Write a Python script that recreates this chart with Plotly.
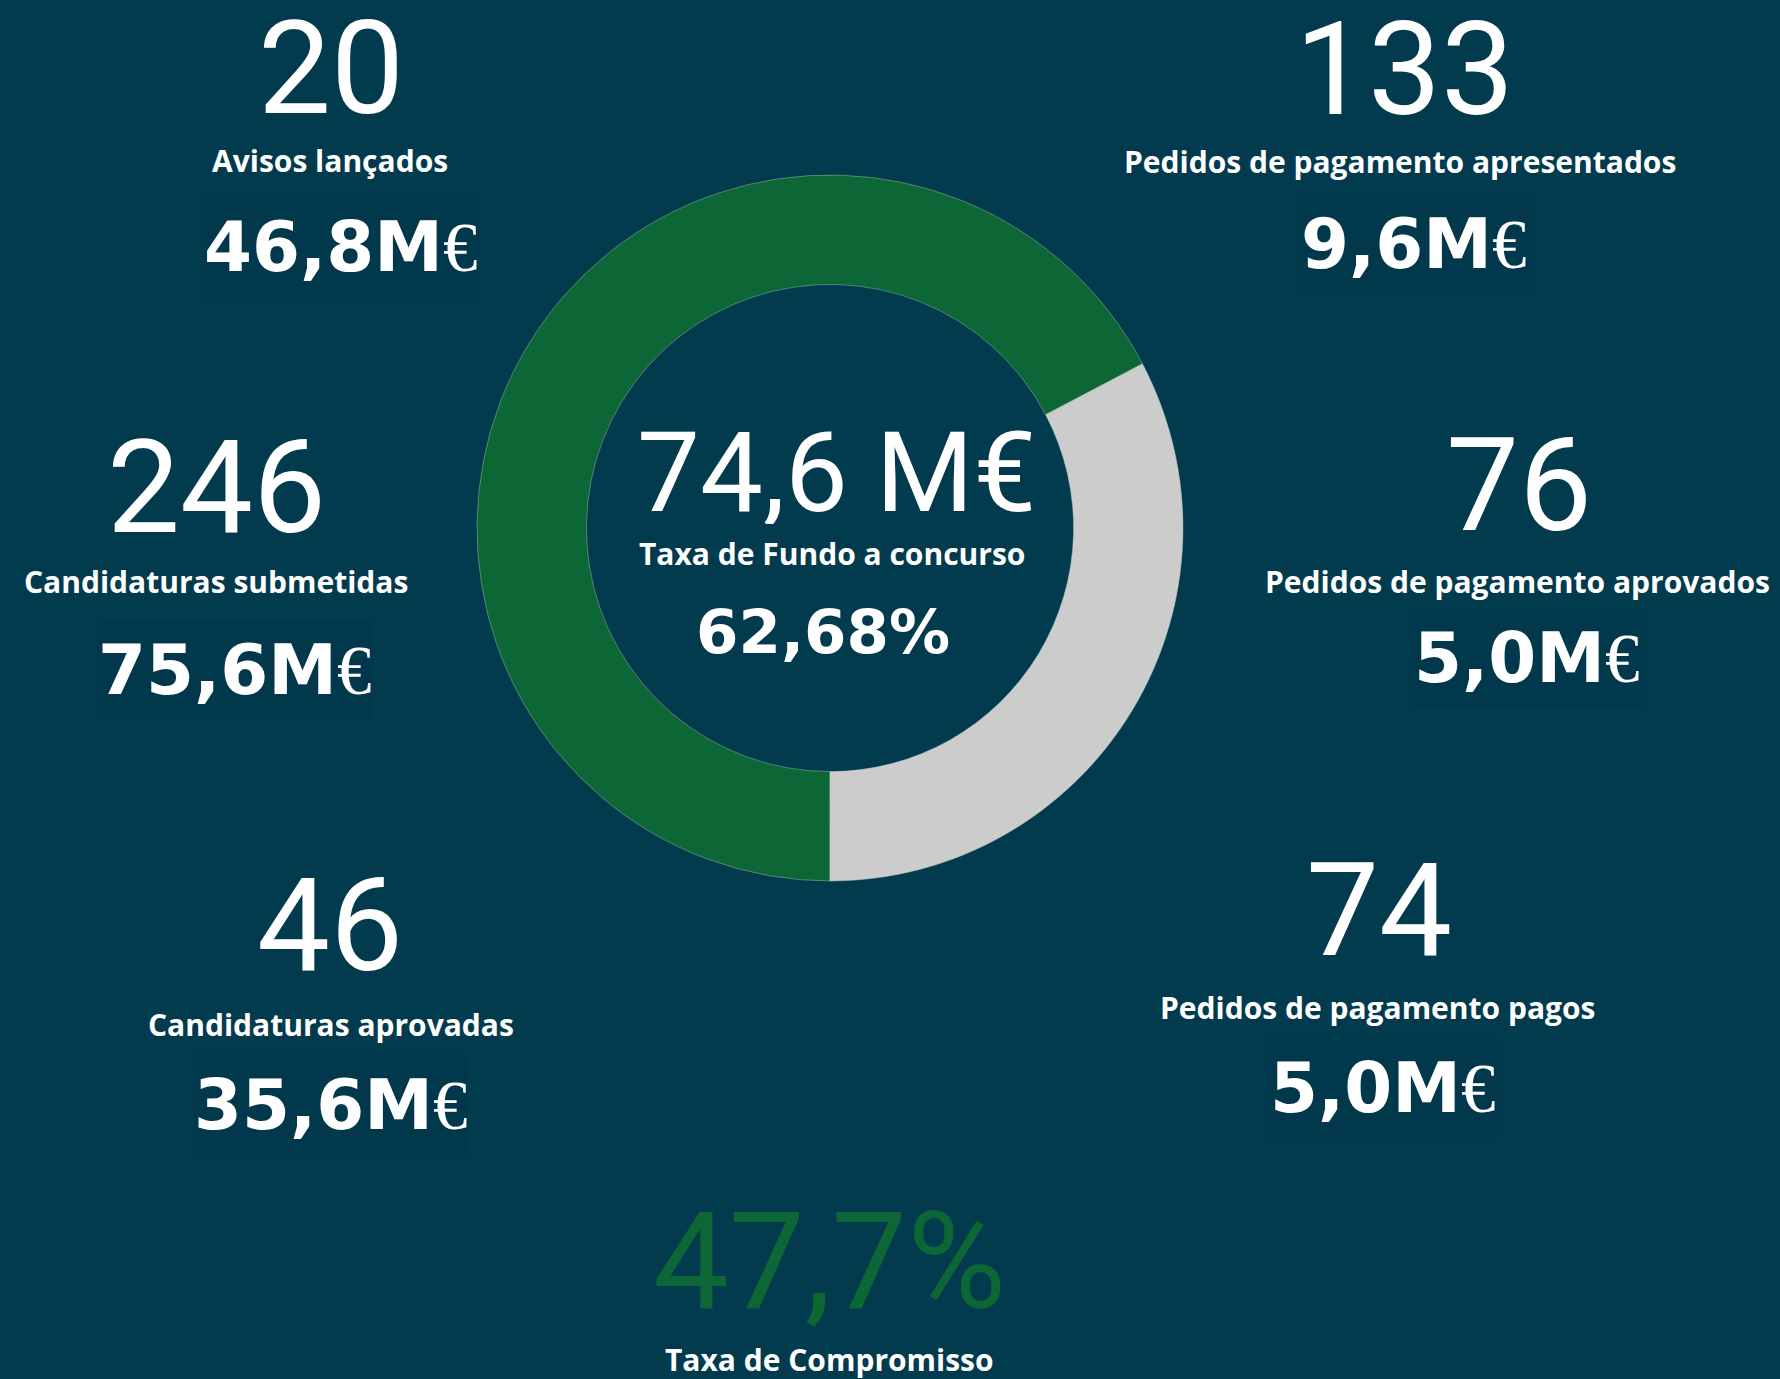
import plotly.graph_objects as go

W, H = 1780, 1379
BG = "#023A4E"
GREEN = "#0C6636"
GREY = "#CCCCCC"

# ---- data ----
kpi_counts = ["20", "133", "246", "76", "46", "74"]
kpi_labels = ["Avisos lançados", "Pedidos de pagamento apresentados", "Candidaturas submetidas",
              "Pedidos de pagamento aprovados", "Candidaturas aprovadas", "Pedidos de pagamento pagos"]
kpi_amounts = ["46,8", "9,6", "75,6", "5,0", "35,6", "5,0"]

donut_labels = ["Fundo a concurso", "Restante"]
donut_values = [67.3, 32.7]

centre_value = "74,6 M€"
centre_label = "Taxa de Fundo a concurso"
centre_rate = "62,68%"
commit_rate = "47,7%"
commit_label = "Taxa de Compromisso"

# ---- layout positions (pixels) ----
count_pos = [(331, 68), (1404, 69), (216, 487), (1519, 485), (330, 925), (1379, 910)]
label_pos = [(330, 160), (1400, 162), (216, 581), (1517, 581), (331, 1024), (1377, 1007)]
amount_pos = [(340, 247), (1413, 244), (234, 670), (1526, 658), (330, 1105), (1382, 1088)]
amount_box_w = [278, 232, 275, 232, 275, 232]

def px(x, y):
    return x / W, 1 - y / H

fig = go.Figure()
cx, cy, r = 830, 528, 353
x0, y0 = px(cx - r, cy + r)
x1, y1 = px(cx + r, cy - r)
fig.add_trace(go.Pie(
    labels=donut_labels, values=donut_values, hole=0.69, sort=False,
    direction="clockwise", rotation=180,
    marker=dict(colors=[GREEN, GREY], line=dict(color="rgba(170,200,180,0.45)", width=1)),
    textinfo="none", hoverinfo="label+percent", showlegend=False,
    domain=dict(x=[x0, x1], y=[y0, y1]),
))

shapes = []
for (ax, ay), bw in zip(amount_pos, amount_box_w):
    shapes.append(dict(type="rect", xref="paper", yref="paper", layer="below",
                       x0=(ax - bw / 2) / W, x1=(ax + bw / 2) / W,
                       y0=1 - (ay + 50) / H, y1=1 - (ay - 50) / H,
                       fillcolor="#02384C", line=dict(width=0)))

ann = []
def add(text, pos, size, family, color="white", weight=400, height=None):
    x, y = px(*pos)
    d = dict(text=text, x=x, y=y, xref="paper", yref="paper", xanchor="center",
             yanchor="middle", showarrow=False,
             font=dict(size=size, family=family, color=color, weight=weight))
    if height:
        d["height"] = height
        d["valign"] = "middle"
    ann.append(d)

EURO = '<span style="font-family:\'Liberation Serif\';font-weight:normal">€</span>'
for c, p in zip(kpi_counts, count_pos):
    add(c, p, 130, "Roboto", height=128)
for l, p in zip(kpi_labels, label_pos):
    add(l, p, 30, "Open Sans", weight=700)
for a, p in zip(kpi_amounts, amount_pos):
    add(a + "M" + EURO, p, 69, "DejaVu Sans", weight=700)

add(centre_value, (836, 472), 112, "Roboto", height=104)
add(centre_label, (832, 553), 30, "Open Sans", weight=700)
add(centre_rate, (823, 632), 61, "DejaVu Sans", weight=700)
add(commit_rate, (829, 1262), 135, "Roboto", color=GREEN)
add(commit_label, (829, 1359), 30, "Open Sans", weight=700)

fig.update_layout(
    width=W, height=H, margin=dict(l=0, r=0, t=0, b=0),
    paper_bgcolor=BG, plot_bgcolor=BG, annotations=ann, shapes=shapes,
)
fig.write_html("out.html", config={"displayModeBar": False},
               post_script="document.body.style.margin='0px';document.body.style.overflow='hidden';")
